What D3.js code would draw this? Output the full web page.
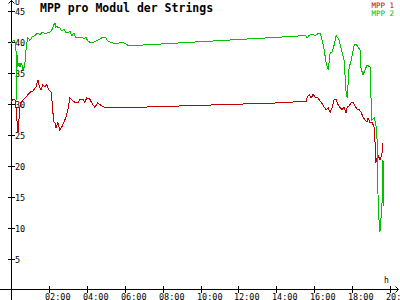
<!DOCTYPE html>
<html>
<head>
<meta charset="utf-8">
<script src="https://cdn.jsdelivr.net/npm/d3@7"></script>
<style>
body { margin: 0; background: #fff; }
svg { display: block; }
</style>
</head>
<body>
<div></div>
<script>
var w = 400;
var h = 300;

// hours since midnight and volts
var mpp1Time = [0.00, 0.11, 0.21, 0.26, 0.32, 0.37, 0.42, 0.47, 0.53, 0.63, 0.74, 0.89, 1.05, 1.16, 1.32, 1.42, 1.47, 1.58, 1.68, 1.79,
    1.89, 2.00, 2.11, 2.16, 2.21, 2.26, 2.32, 2.37, 2.47, 2.58, 2.68, 2.79, 2.89, 3.00, 3.11, 3.21, 3.37, 3.53, 3.63, 3.79,
    3.89, 4.00, 4.16, 4.26, 4.42, 4.58, 4.79, 5.00, 5.21, 5.47, 5.74, 5.95, 6.26, 6.53, 6.79, 14.16, 15.21, 15.58, 15.63, 15.74,
    15.84, 15.95, 16.05, 16.16, 16.26, 16.37, 16.53, 16.63, 16.74, 16.84, 16.95, 17.05, 17.16, 17.26, 17.37, 17.47, 17.58, 17.68, 17.74, 17.84,
    17.95, 18.05, 18.16, 18.26, 18.37, 18.47, 18.58, 18.68, 18.79, 18.84, 18.95, 19.05, 19.16, 19.21, 19.24, 19.32, 19.37, 19.47, 19.53, 19.58, 19.63];
var mpp1 = [30.3, 30.7, 30.6, 29.4, 27.0, 25.4, 27.3, 29.3, 30.2, 30.6, 30.9, 31.4, 31.9, 32.0, 32.7, 33.8, 33.0, 32.2, 33.0, 32.7,
    33.0, 32.2, 31.9, 30.6, 28.6, 27.0, 26.9, 26.0, 26.9, 25.7, 26.2, 27.0, 27.7, 28.9, 30.9, 30.6, 30.2, 30.1, 30.6, 30.7,
    30.2, 30.9, 30.7, 30.1, 29.4, 30.1, 29.6, 29.3, 29.4, 29.3, 29.4, 29.3, 29.3, 29.3, 29.4, 30.1, 30.3, 30.3, 31.0, 31.4,
    30.9, 31.5, 31.0, 31.0, 30.6, 30.2, 29.4, 29.0, 29.3, 28.6, 29.4, 30.6, 30.7, 29.8, 29.3, 29.0, 29.4, 28.5, 29.4, 29.6,
    30.1, 30.2, 29.6, 29.1, 29.0, 28.6, 27.8, 27.3, 27.0, 27.7, 26.9, 27.0, 26.2, 23.8, 20.4, 21.2, 21.7, 20.9, 21.4, 22.0, 23.6];

var mpp2Time = [0.00, 0.05, 0.16, 0.21, 0.26, 0.29, 0.32, 0.34, 0.42, 0.47, 0.53, 0.58, 0.63, 0.68, 0.74, 0.79, 0.84, 0.89, 1.00, 1.11,
    1.21, 1.32, 1.42, 1.53, 1.63, 1.74, 1.84, 1.95, 2.05, 2.16, 2.26, 2.32, 2.37, 2.42, 2.47, 2.58, 2.68, 2.79, 2.89, 3.00,
    3.11, 3.21, 3.32, 3.42, 3.53, 3.63, 3.74, 3.84, 3.95, 4.05, 4.16, 4.37, 4.58, 4.79, 5.00, 5.11, 5.32, 5.53, 5.74, 5.95,
    6.16, 6.26, 6.53, 6.79, 14.16, 15.21, 15.53, 15.63, 15.74, 15.89, 16.05, 16.16, 16.32, 16.42, 16.53, 16.63, 16.74, 16.84, 16.95, 17.05,
    17.16, 17.32, 17.42, 17.58, 17.68, 17.74, 17.84, 17.95, 18.11, 18.21, 18.42, 18.47, 18.58, 18.68, 18.79, 18.95, 19.00, 19.05, 19.16, 19.26,
    19.32, 19.34, 19.37, 19.42, 19.47, 19.53, 19.58, 19.63, 19.68];
var mpp2 = [39.7, 39.9, 40.2, 39.9, 39.9, 30.6, 37.8, 35.9, 36.5, 35.9, 36.5, 36.2, 35.4, 35.7, 36.7, 38.6, 39.9, 40.6, 40.2, 40.7,
    40.9, 41.1, 41.4, 41.1, 41.4, 41.4, 41.2, 41.5, 41.5, 41.9, 42.7, 43.0, 42.3, 42.5, 42.2, 42.2, 41.7, 42.0, 41.5, 41.4,
    41.7, 40.9, 41.4, 40.6, 40.7, 40.6, 40.7, 40.4, 40.7, 40.1, 39.9, 39.9, 40.2, 40.6, 40.6, 40.1, 39.8, 39.6, 39.8, 39.8,
    39.4, 39.3, 39.3, 39.4, 40.7, 40.9, 41.0, 40.6, 41.0, 41.2, 40.9, 41.2, 41.3, 40.2, 38.6, 36.5, 35.4, 38.1, 38.3, 39.4,
    41.0, 40.2, 38.9, 37.0, 31.9, 30.9, 35.7, 37.0, 39.4, 39.6, 38.6, 35.7, 34.6, 35.4, 36.2, 35.9, 30.6, 27.3, 27.7, 26.5,
    24.1, 16.5, 15.2, 11.2, 9.3, 11.7, 14.1, 20.9, 13.5];

var xTicks = [2, 4, 6, 8, 10, 12, 14, 16, 18, 20];
var yTicks = [5, 10, 15, 20, 25, 30, 35, 40, 45];
var seriesNames = ["MPP 1", "MPP 2"];
var seriesColors = ["#c00000", "#00c000"];

var mono = "'DejaVu Sans Mono', monospace";

var svg = d3.select("div")
    .append("svg")
    .attr("width", w)
    .attr("height", h);

var x = d3.scaleLinear().domain([0, 20]).range([11, 390]);
var y = d3.scaleLinear().domain([0, 45]).range([289.5, 10.5]);

// axes lines
svg.append("line")
    .attr("x1", 11.5).attr("x2", 11.5)
    .attr("y1", 0).attr("y2", h)
    .attr("stroke", "#000");
svg.append("line")
    .attr("x1", 0).attr("x2", 398)
    .attr("y1", 289.5).attr("y2", 289.5)
    .attr("stroke", "#000");

// arrows
svg.append("path")
    .attr("d", "M8.5,3.5 L11.5,0.5 L14.5,3.5")
    .attr("fill", "none").attr("stroke", "#000");
svg.append("path")
    .attr("d", "M395.5,286.5 L398.5,289.5 L395.5,292.5")
    .attr("fill", "none").attr("stroke", "#000");

svg.append("text")
    .attr("x", 15).attr("y", 5)
    .style("font-family", mono).style("font-size", "8px")
    .text("U");
svg.append("text")
    .attr("x", 384).attr("y", 283)
    .style("font-family", mono).style("font-size", "8px")
    .text("h");

// y ticks
var yt = svg.selectAll(".yt")
    .data(yTicks)
    .enter()
    .append("g")
    .attr("class", "yt");
yt.append("line")
    .attr("x1", 8).attr("x2", 15)
    .attr("y1", function (d) { return Math.round(y(d)) + 0.5; })
    .attr("y2", function (d) { return Math.round(y(d)) + 0.5; })
    .attr("stroke", "#000");
yt.append("text")
    .attr("x", 15)
    .attr("y", function (d) { return Math.round(y(d)) + 3.5; })
    .style("font-family", mono).style("font-size", "8.5px")
    .text(function (d) { return d; });

// x ticks
var xt = svg.selectAll(".xt")
    .data(xTicks)
    .enter()
    .append("g")
    .attr("class", "xt");
xt.append("line")
    .attr("x1", function (d) { return Math.round(x(d)) + 0.5; })
    .attr("x2", function (d) { return Math.round(x(d)) + 0.5; })
    .attr("y1", 286).attr("y2", 293)
    .attr("stroke", "#000");
xt.append("text")
    .attr("x", function (d) { return Math.round(x(d)) - 4; })
    .attr("y", 300)
    .style("font-family", mono).style("font-size", "8.5px")
    .text(function (d) { return (d < 10 ? "0" : "") + d + ":00"; });

// lines
var line = d3.line()
    .x(function (d) { return x(d[0]); })
    .y(function (d) { return y(d[1]); });

var series = [d3.zip(mpp1Time, mpp1), d3.zip(mpp2Time, mpp2)];

svg.selectAll(".series")
    .data(series)
    .enter()
    .append("path")
    .attr("class", "series")
    .attr("d", line)
    .attr("fill", "none")
    .attr("stroke", function (d, i) { return seriesColors[i]; })
    .attr("stroke-width", 1)
    .style("shape-rendering", "crispEdges");

// title
svg.append("text")
    .attr("x", 40).attr("y", 12)
    .style("font-family", mono).style("font-size", "11.5px")
    .style("font-weight", "bold")
    .text("MPP pro Modul der Strings");

// legend
svg.selectAll(".leg")
    .data(seriesNames)
    .enter()
    .append("text")
    .attr("class", "leg")
    .attr("x", 394)
    .attr("y", function (d, i) { return 8 + i * 7.5; })
    .attr("text-anchor", "end")
    .attr("fill", function (d, i) { return seriesColors[i]; })
    .style("font-family", mono).style("font-size", "7.5px")
    .text(function (d) { return d; });
</script>
</body>
</html>
